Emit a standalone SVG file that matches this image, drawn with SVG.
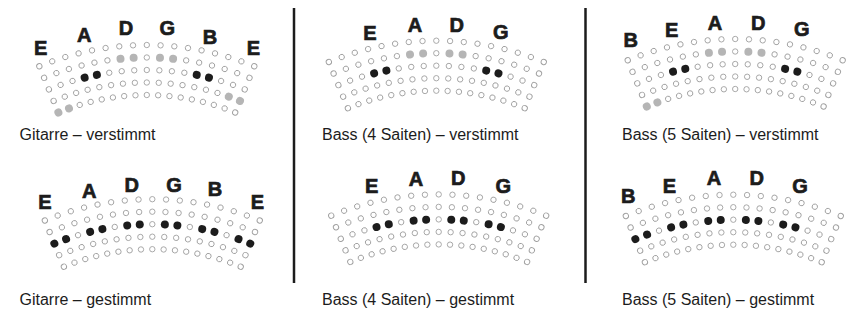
<svg xmlns="http://www.w3.org/2000/svg" width="866" height="328" viewBox="0 0 866 328">
<style>
.o{fill:#fff;stroke:#a0a0a0;stroke-width:0.9}
.b{fill:#1c1c1c}
.g{fill:#b5b5b5}
.n{font-family:"Liberation Sans",Arial,sans-serif;font-weight:bold;font-size:20px;fill:#1c1c1c;stroke:#1c1c1c;stroke-width:0.7;text-anchor:middle}
.c{font-family:"Liberation Sans",Arial,sans-serif;font-size:16px;fill:#1c1c1c}
.d{stroke:#1c1c1c;stroke-width:2.5}
</style>
<defs>
<g id="col">
<circle class="o" cx="0" cy="-282" r="2.7"/>
<circle class="o" cx="0" cy="-269.5" r="2.7"/>
<circle class="o" cx="0" cy="-257" r="2.7"/>
<circle class="o" cx="0" cy="-244.5" r="2.7"/>
<circle class="o" cx="0" cy="-232" r="2.7"/>
</g>
<g id="grid">
<use href="#col" transform="rotate(-22.4)"/>
<use href="#col" transform="rotate(-19.6)"/>
<use href="#col" transform="rotate(-16.8)"/>
<use href="#col" transform="rotate(-14)"/>
<use href="#col" transform="rotate(-11.2)"/>
<use href="#col" transform="rotate(-8.4)"/>
<use href="#col" transform="rotate(-5.6)"/>
<use href="#col" transform="rotate(-2.8)"/>
<use href="#col"/>
<use href="#col" transform="rotate(2.8)"/>
<use href="#col" transform="rotate(5.6)"/>
<use href="#col" transform="rotate(8.4)"/>
<use href="#col" transform="rotate(11.2)"/>
<use href="#col" transform="rotate(14)"/>
<use href="#col" transform="rotate(16.8)"/>
<use href="#col" transform="rotate(19.6)"/>
<use href="#col" transform="rotate(22.4)"/>
</g>
<circle id="h2" cx="0" cy="-269.5" r="4"/>
<circle id="h3" cx="0" cy="-257" r="4"/>
<circle id="h4" cx="0" cy="-244.5" r="4"/>
<circle id="h5" cx="0" cy="-232" r="4"/>
</defs>

<g id="dividers">
<line class="d" x1="294" y1="8" x2="294" y2="283"/>
<line class="d" x1="585.5" y1="8" x2="585.5" y2="283"/>
</g>

<g id="gitarre-verstimmt">
<g transform="translate(146.8,327)">
<use href="#grid"/>
<use href="#h5" class="g" transform="rotate(-22.4)"/><use href="#h5" class="g" transform="rotate(-19.6)"/>
<use href="#h3" class="b" transform="rotate(-14)"/><use href="#h3" class="b" transform="rotate(-11.2)"/>
<use href="#h2" class="g" transform="rotate(-5.6)"/><use href="#h2" class="g" transform="rotate(-2.8)"/>
<use href="#h2" class="g" transform="rotate(2.8)"/><use href="#h2" class="g" transform="rotate(5.6)"/>
<use href="#h3" class="b" transform="rotate(11.2)"/><use href="#h3" class="b" transform="rotate(14)"/>
<use href="#h4" class="g" transform="rotate(19.6)"/><use href="#h4" class="g" transform="rotate(22.4)"/>
</g>
<text class="n" x="40.7" y="55.3">E</text>
<text class="n" x="84.3" y="42">A</text>
<text class="n" x="126" y="35.3">D</text>
<text class="n" x="167.3" y="35.3">G</text>
<text class="n" x="210" y="43.7">B</text>
<text class="n" x="253.3" y="55.3">E</text>
<text class="c" x="19.5" y="140">Gitarre – verstimmt</text>
</g>

<g id="bass4-verstimmt">
<g transform="translate(436.3,322.7)">
<use href="#grid"/>
<use href="#h3" class="b" transform="rotate(-14)"/><use href="#h3" class="b" transform="rotate(-11.2)"/>
<use href="#h2" class="g" transform="rotate(-5.6)"/><use href="#h2" class="g" transform="rotate(-2.8)"/>
<use href="#h2" class="g" transform="rotate(2.8)"/><use href="#h2" class="g" transform="rotate(5.6)"/>
<use href="#h3" class="b" transform="rotate(11.2)"/><use href="#h3" class="b" transform="rotate(14)"/>
</g>
<text class="n" x="370" y="40.3">E</text>
<text class="n" x="415" y="32">A</text>
<text class="n" x="456.7" y="32">D</text>
<text class="n" x="500.7" y="38.7">G</text>
<text class="c" x="322" y="140">Bass (4 Saiten) – verstimmt</text>
</g>

<g id="bass5-verstimmt">
<g transform="translate(735.2,321)">
<use href="#grid"/>
<use href="#h5" class="g" transform="rotate(-22.4)"/><use href="#h5" class="g" transform="rotate(-19.6)"/>
<use href="#h3" class="b" transform="rotate(-14)"/><use href="#h3" class="b" transform="rotate(-11.2)"/>
<use href="#h2" class="g" transform="rotate(-5.6)"/><use href="#h2" class="g" transform="rotate(-2.8)"/>
<use href="#h2" class="g" transform="rotate(2.8)"/><use href="#h2" class="g" transform="rotate(5.6)"/>
<use href="#h3" class="b" transform="rotate(11.2)"/><use href="#h3" class="b" transform="rotate(14)"/>
</g>
<text class="n" x="630.7" y="47">B</text>
<text class="n" x="671.7" y="37">E</text>
<text class="n" x="715" y="30.3">A</text>
<text class="n" x="758.3" y="30.3">D</text>
<text class="n" x="801.7" y="36.3">G</text>
<text class="c" x="622" y="140">Bass (5 Saiten) – verstimmt</text>
</g>

<g id="gitarre-gestimmt">
<g transform="translate(152.3,481.2)">
<use href="#grid"/>
<use href="#h3" class="b" transform="rotate(-22.4)"/><use href="#h3" class="b" transform="rotate(-19.6)"/>
<use href="#h3" class="b" transform="rotate(-14)"/><use href="#h3" class="b" transform="rotate(-11.2)"/>
<use href="#h3" class="b" transform="rotate(-5.6)"/><use href="#h3" class="b" transform="rotate(-2.8)"/>
<use href="#h3" class="b" transform="rotate(2.8)"/><use href="#h3" class="b" transform="rotate(5.6)"/>
<use href="#h3" class="b" transform="rotate(11.2)"/><use href="#h3" class="b" transform="rotate(14)"/>
<use href="#h3" class="b" transform="rotate(19.6)"/><use href="#h3" class="b" transform="rotate(22.4)"/>
</g>
<text class="n" x="45" y="208.7">E</text>
<text class="n" x="89.3" y="198">A</text>
<text class="n" x="131.7" y="192">D</text>
<text class="n" x="174" y="192">G</text>
<text class="n" x="215" y="196">B</text>
<text class="n" x="257.3" y="208.7">E</text>
<text class="c" x="19.5" y="304.5">Gitarre – gestimmt</text>
</g>

<g id="bass4-gestimmt">
<g transform="translate(438.7,476.4)">
<use href="#grid"/>
<use href="#h3" class="b" transform="rotate(-14)"/><use href="#h3" class="b" transform="rotate(-11.2)"/>
<use href="#h3" class="b" transform="rotate(-5.6)"/><use href="#h3" class="b" transform="rotate(-2.8)"/>
<use href="#h3" class="b" transform="rotate(2.8)"/><use href="#h3" class="b" transform="rotate(5.6)"/>
<use href="#h3" class="b" transform="rotate(11.2)"/><use href="#h3" class="b" transform="rotate(14)"/>
</g>
<text class="n" x="371.7" y="192.7">E</text>
<text class="n" x="416" y="186">A</text>
<text class="n" x="458.3" y="185.3">D</text>
<text class="n" x="503.3" y="192.7">G</text>
<text class="c" x="322" y="304.5">Bass (4 Saiten) – gestimmt</text>
</g>

<g id="bass5-gestimmt">
<g transform="translate(733.3,476.7)">
<use href="#grid"/>
<use href="#h3" class="b" transform="rotate(-22.4)"/><use href="#h3" class="b" transform="rotate(-19.6)"/>
<use href="#h3" class="b" transform="rotate(-14)"/><use href="#h3" class="b" transform="rotate(-11.2)"/>
<use href="#h3" class="b" transform="rotate(-5.6)"/><use href="#h3" class="b" transform="rotate(-2.8)"/>
<use href="#h3" class="b" transform="rotate(2.8)"/><use href="#h3" class="b" transform="rotate(5.6)"/>
<use href="#h3" class="b" transform="rotate(11.2)"/><use href="#h3" class="b" transform="rotate(14)"/>
</g>
<text class="n" x="628.3" y="202.7">B</text>
<text class="n" x="669.3" y="192.7">E</text>
<text class="n" x="714" y="184.7">A</text>
<text class="n" x="756.7" y="184.7">D</text>
<text class="n" x="800" y="192.7">G</text>
<text class="c" x="622" y="304.5">Bass (5 Saiten) – gestimmt</text>
</g>
</svg>
